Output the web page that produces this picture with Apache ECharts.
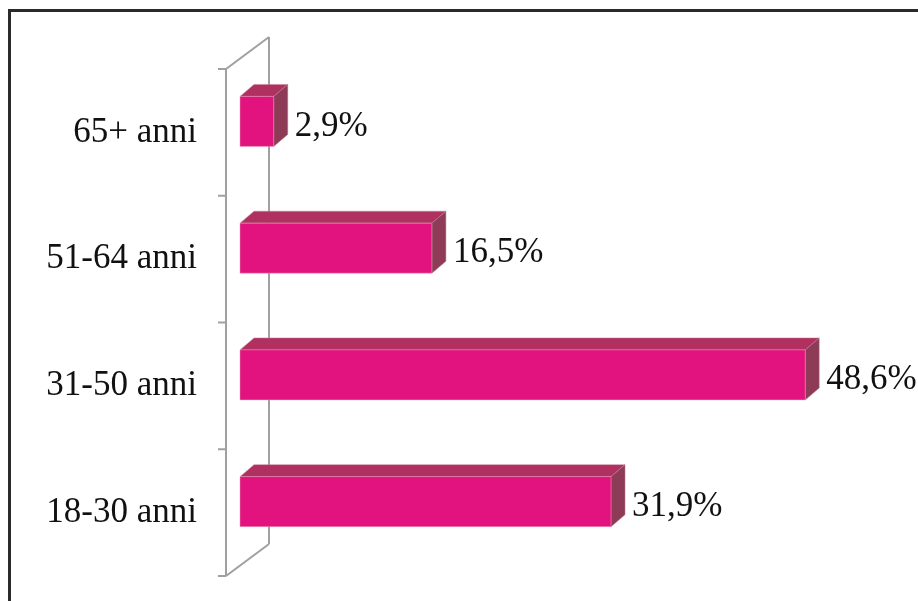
<!DOCTYPE html>
<html>
<head>
<meta charset="utf-8">
<script src="https://cdn.jsdelivr.net/npm/echarts@6/dist/echarts.min.js"></script>
<style>
  html, body { margin: 0; padding: 0; background: #fff; }
  #chart { width: 918px; height: 601px; }
</style>
</head>
<body>
<div id="chart"></div>
<script>
// Age groups, bottom to top
const categories = ['18-30 anni', '31-50 anni', '51-64 anni', '65+ anni'];
const shares = [31.9, 48.6, 16.5, 2.9];
const shareLabels = ['31,9%', '48,6%', '16,5%', '2,9%'];

const FONT = '"Liberation Serif", "Times New Roman", serif';
const FRONT = '#e2127e';
const TOP = '#b0305f';
const SIDE = '#8d3b56';
const WALL = '#a0a0a0';
const DX = 14, DY = 12;      // 3D depth offset of the bars
const WX = 43, WY = 32;      // 3D depth offset of the left wall
const WALL_OFFSET = 14;      // wall front plane sits left of the zero line
const TICK = 8;

const chart = echarts.init(document.getElementById('chart'));

// Draws the extruded 3D bar with its value label
function renderBar(params, api) {
  const idx = api.value(0);
  const val = api.value(1);
  const p0 = api.coord([0, idx]);
  const p1 = api.coord([val, idx]);
  const h = 50;
  const cy = p0[1] - 11;
  const yt = cy - h / 2, yb = cy + h / 2;
  const x0 = p0[0], x1 = p1[0];
  return {
    type: 'group',
    children: [
      { type: 'polygon', shape: { points: [[x0, yt], [x0 + DX, yt - DY], [x1 + DX, yt - DY], [x1, yt]] },
        style: { fill: TOP, stroke: '#c88aa0', lineWidth: 0.5 } },
      { type: 'polygon', shape: { points: [[x1, yt], [x1 + DX, yt - DY], [x1 + DX, yb - DY], [x1, yb]] },
        style: { fill: SIDE, stroke: '#b07a8c', lineWidth: 0.5 } },
      { type: 'rect', shape: { x: x0, y: yt, width: x1 - x0, height: h },
        style: { fill: FRONT, stroke: '#e9a0b8', lineWidth: 0.5 } },
      { type: 'text', x: x1 + DX + 7, y: cy + 5,
        style: { text: shareLabels[params.dataIndex], font: '35px ' + FONT, fill: '#111',
                 textAlign: 'left', textVerticalAlign: 'middle' } }
    ]
  };
}

// Draws the left wall: front edge with ticks at band boundaries, back edge and depth edges
function renderWall(params, api) {
  const cs = params.coordSys;
  const xf = cs.x - WALL_OFFSET;
  const yTop = cs.y, yBot = cs.y + cs.height;
  const band = api.size([0, 1])[1];
  const st = { stroke: WALL, lineWidth: 2, fill: null };
  const children = [
    { type: 'line', shape: { x1: xf, y1: yTop, x2: xf, y2: yBot }, style: st },
    { type: 'line', shape: { x1: xf + WX, y1: yTop - WY, x2: xf + WX, y2: yBot - WY }, style: st },
    { type: 'line', shape: { x1: xf, y1: yTop, x2: xf + WX, y2: yTop - WY }, style: st },
    { type: 'line', shape: { x1: xf, y1: yBot, x2: xf + WX, y2: yBot - WY }, style: st }
  ];
  for (let i = 0; i <= categories.length; i++) {
    const y = yTop + i * band;
    children.push({ type: 'line', shape: { x1: xf - TICK, y1: y, x2: xf, y2: y }, style: st });
  }
  return { type: 'group', children };
}

chart.setOption({
  animation: false,
  backgroundColor: '#fff',
  grid: { left: 240, top: 69, width: 581.5, height: 507 },
  xAxis: {
    type: 'value', min: 0, max: 50,
    show: false
  },
  yAxis: {
    type: 'category',
    data: categories,
    axisLine: { show: false },
    axisTick: { show: false },
    axisLabel: { margin: 43, fontFamily: FONT, fontSize: 35, color: '#111' },
    splitLine: { show: false }
  },
  graphic: [
    { type: 'line', shape: { x1: 9.5, y1: 10.5, x2: 918, y2: 10.5 },
      style: { stroke: '#2b2b2b', lineWidth: 3 }, z: 100 },
    { type: 'line', shape: { x1: 9.5, y1: 9, x2: 9.5, y2: 601 },
      style: { stroke: '#2b2b2b', lineWidth: 3 }, z: 100 }
  ],
  series: [
    {
      type: 'custom',
      renderItem: renderWall,
      data: [[0, 0]],
      z: 1,
      silent: true
    },
    {
      type: 'custom',
      renderItem: renderBar,
      data: shares.map((v, i) => [i, v]),
      encode: { x: 1, y: 0 },
      z: 2
    }
  ]
});
</script>
</body>
</html>
